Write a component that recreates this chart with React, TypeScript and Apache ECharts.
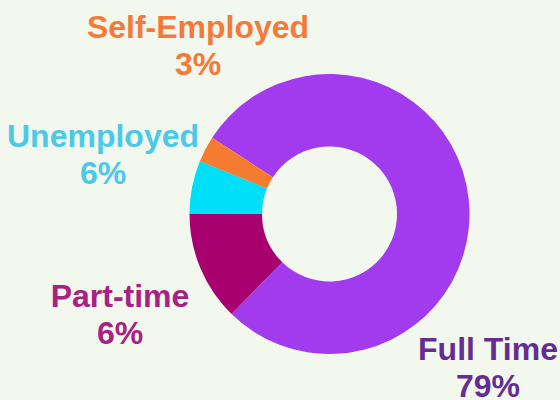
import React, { useEffect, useRef } from "react";
import * as echarts from "echarts";

const categories = ["Full Time", "Part-time", "Unemployed", "Self-Employed"];
const values = [78.1, 12.7, 6.1, 3.0];
const labelPercents = ["79%", "6%", "6%", "3%"];
const sliceColors = ["#A23AEE", "#A8006F", "#00DFF8", "#F47B30"];
const labelColors = ["#662D91", "#A62283", "#4DC8E6", "#F47A3A"];
const labelPositions: [number, number][] = [
  [488, 367],
  [120, 314],
  [103, 154],
  [198, 45],
];

export default function App() {
  const ref = useRef<HTMLDivElement>(null);
  useEffect(() => {
    if (!ref.current) return;
    const chart = echarts.init(ref.current, undefined, { renderer: "svg" });
    chart.setOption({
      animation: false,
      backgroundColor: "#F2F8EE",
      series: [
        {
          type: "pie",
          center: [329.5, 214],
          radius: [67.5, 140],
          startAngle: 147,
          clockwise: true,
          label: { show: false },
          labelLine: { show: false },
          emphasis: { disabled: true },
          data: categories.map((c, i) => ({
            name: c,
            value: values[i],
            itemStyle: { color: sliceColors[i] },
          })),
        },
      ],
      graphic: categories.map((c, i) => ({
        type: "text",
        x: labelPositions[i][0],
        y: labelPositions[i][1],
        style: {
          text: c + "\n" + labelPercents[i],
          fill: labelColors[i],
          font: "bold 32px 'Liberation Sans', Arial, sans-serif",
          textAlign: "center",
          textVerticalAlign: "middle",
          lineHeight: 37,
        },
      })),
    });
    return () => chart.dispose();
  }, []);
  return (
    <div
      ref={ref}
      style={{ position: "fixed", left: 0, top: 0, width: 560, height: 400 }}
    />
  );
}
